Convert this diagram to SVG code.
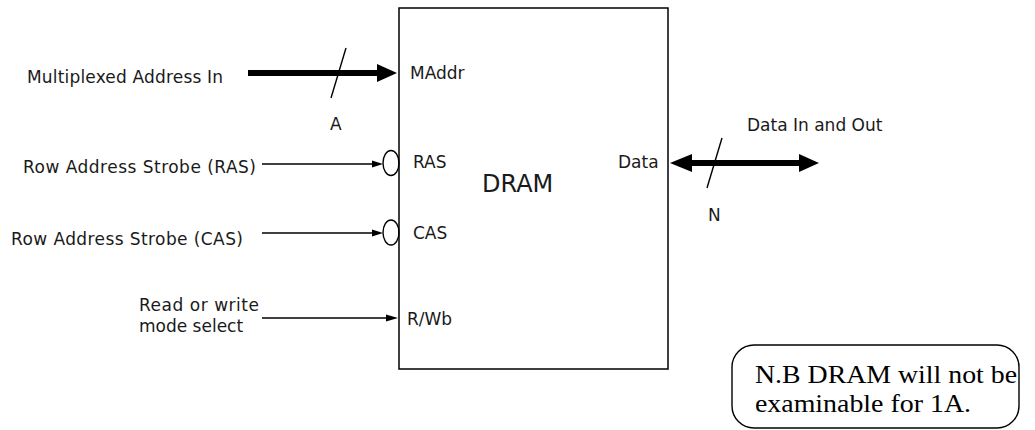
<svg xmlns="http://www.w3.org/2000/svg" width="1035" height="430" viewBox="0 0 1035 430">
<style>
.t{font-family:"DejaVu Sans",Verdana,sans-serif;font-size:17px;fill:#1a1a1a}
.ln{stroke:#000;stroke-width:1.4;fill:none}
.thick{stroke:#000;stroke-width:6;fill:none}
.hd{fill:#000}
.note{font-family:"Liberation Serif","Times New Roman",serif;font-size:26px;fill:#000}
</style>
<rect width="1035" height="430" fill="#fff"/>
<g id="dram">
<rect x="399" y="8" width="269" height="361" fill="#fff" stroke="#000" stroke-width="1.5"/>
<text class="t" x="482" y="192" style="font-size:24px">DRAM</text>
<text class="t" x="410" y="79">MAddr</text>
<text class="t" x="413" y="168">RAS</text>
<text class="t" x="413" y="239">CAS</text>
<text class="t" x="407" y="325">R/Wb</text>
<text class="t" x="618" y="168">Data</text>
</g>
<g id="labels">
<text class="t" x="27" y="83" textLength="196" lengthAdjust="spacing">Multiplexed Address In</text>
<text class="t" x="23" y="173" textLength="233" lengthAdjust="spacing">Row Address Strobe (RAS)</text>
<text class="t" x="11" y="245" textLength="232" lengthAdjust="spacing">Row Address Strobe (CAS)</text>
<text class="t" x="139" y="311" textLength="120" lengthAdjust="spacing">Read or write</text>
<text class="t" x="139" y="332">mode select</text>
<text class="t" x="330" y="130">A</text>
<text class="t" x="708" y="221">N</text>
<text class="t" x="747" y="131">Data In and Out</text>
</g>
<g id="connectors">
<line class="thick" x1="248" y1="73" x2="379" y2="73"/>
<polygon class="hd" points="377,64 397,73 377,82"/>
<line class="ln" x1="346" y1="48" x2="331" y2="98"/>
<line class="ln" x1="262" y1="164" x2="374" y2="164"/>
<polygon class="hd" points="372,160.5 383,164 372,167.5"/>
<ellipse class="ln" cx="391" cy="163" rx="8" ry="12.5"/>
<line class="ln" x1="262" y1="233" x2="374" y2="233"/>
<polygon class="hd" points="372,229.5 383,233 372,236.5"/>
<ellipse class="ln" cx="391" cy="232.5" rx="8" ry="12.5"/>
<line class="ln" x1="262" y1="318" x2="388" y2="318"/>
<polygon class="hd" points="386,314.5 398,318 386,321.5"/>
<line class="thick" x1="690" y1="163" x2="801" y2="163"/>
<polygon class="hd" points="692,154 670,163 692,172"/>
<polygon class="hd" points="799,154 819,163 799,172"/>
<line class="ln" x1="722" y1="138" x2="707" y2="188"/>
</g>
<g id="note">
<rect x="732" y="345" width="287" height="83" rx="22" ry="22" fill="#fff" stroke="#000" stroke-width="1.4"/>
<text class="note" x="755" y="383" textLength="262" lengthAdjust="spacingAndGlyphs">N.B DRAM will not be</text>
<text class="note" x="755" y="412" textLength="216" lengthAdjust="spacingAndGlyphs">examinable for 1A.</text>
</g>
</svg>
